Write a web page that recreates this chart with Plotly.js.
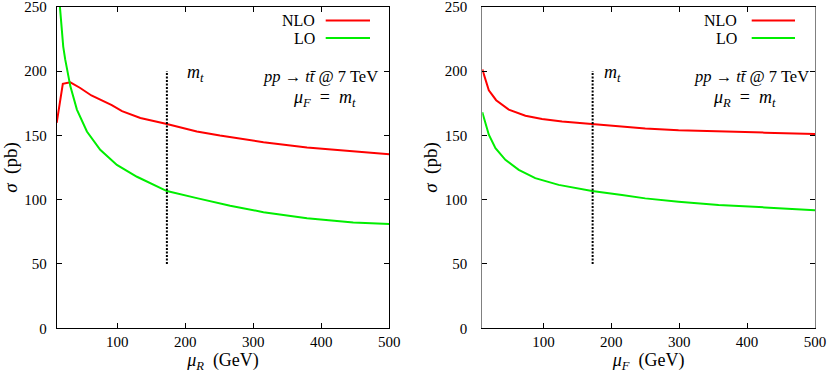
<!DOCTYPE html>
<html>
<head>
<meta charset="utf-8">
<script src="https://cdn.plot.ly/plotly-3.0.1.min.js"></script>
<style>html,body{margin:0;padding:0;background:#fff;}#chart{width:830px;height:382px;}</style>
</head>
<body>
<div id="chart"></div>
<script>
// Left panel: sigma vs mu_R (mu_F = m_t)
const muR_NLO = [11, 20, 31, 45, 62, 82, 92, 107, 134, 173, 217, 251, 266, 315, 379, 447, 500];
const sigR_NLO = [159.8, 190, 191.2, 187, 181, 176, 173.5, 168.8, 163.5, 158.8, 153, 149.8, 148.6, 144.7, 140.5, 137.9, 135.3];
const muR_LO = [15.7, 20.6, 23.5, 31, 40.7, 55.4, 75, 99.5, 129, 173, 217, 251, 266, 315, 379, 447, 500];
const sigR_LO = [250, 219, 209, 188.3, 170, 153, 138.8, 127, 117.8, 106.7, 101.2, 96.8, 95.3, 90.3, 85.5, 82.3, 81];
// Right panel: sigma vs mu_F (mu_R = m_t)
const muF_NLO = [10, 19.6, 30.4, 49, 73.5, 98, 127.5, 171.6, 215.7, 250, 299, 358, 426, 500];
const sigF_NLO = [201.3, 185, 177.3, 170, 165.3, 162.7, 160.7, 158.6, 156.8, 155.4, 153.9, 152.8, 152.1, 151];
const muF_LO = [10, 19.6, 29.4, 44, 63.7, 88, 122.5, 171.6, 215.7, 250, 299, 358, 426, 500];
const sigF_LO = [168, 150.5, 140, 131, 123.2, 116.7, 111.5, 106.8, 103.6, 101, 98.4, 95.8, 94, 91.8];
// m_t marker line
const mtLeft = [173, 173];
const mtRight = [172.5, 172.5];
const mtSpan = [50, 200];
const xTicks = [100, 200, 300, 400, 500];
const yTicks = [0, 50, 100, 150, 200, 250];

const FONT = "'Liberation Serif', 'Times New Roman', serif";
const RED = '#ff0000', GREEN = '#00ee00';

const traces = [
  {x: muR_NLO, y: sigR_NLO, xaxis: 'x', yaxis: 'y', mode: 'lines', line: {color: RED, width: 2}, name: 'NLO'},
  {x: muR_LO, y: sigR_LO, xaxis: 'x', yaxis: 'y', mode: 'lines', line: {color: GREEN, width: 2}, name: 'LO'},
  {x: mtLeft, y: mtSpan, xaxis: 'x', yaxis: 'y', mode: 'lines', line: {color: '#000', width: 2, dash: '2px,1.5px'}},
  {x: muF_NLO, y: sigF_NLO, xaxis: 'x2', yaxis: 'y2', mode: 'lines', line: {color: RED, width: 2}, name: 'NLO'},
  {x: muF_LO, y: sigF_LO, xaxis: 'x2', yaxis: 'y2', mode: 'lines', line: {color: GREEN, width: 2}, name: 'LO'},
  {x: mtRight, y: mtSpan, xaxis: 'x2', yaxis: 'y2', mode: 'lines', line: {color: '#000', width: 2, dash: '2px,1.5px'}}
];

const W = 830, H = 382;
const px = v => v / W, py = v => (H - v) / H;

function xax(dom, rng, title, anchor) {
  return {domain: dom, range: rng, tickvals: xTicks, ticks: 'inside', ticklen: 5, tickcolor: '#000',
    mirror: 'allticks', showline: true, linecolor: '#000', linewidth: 1, showgrid: false, zeroline: false,
    ticklabeloverflow: 'allow',
    tickfont: {family: FONT, size: 15, color: '#000'}, anchor: anchor, fixedrange: true,
    title: {text: title, font: {family: FONT, size: 18, color: '#000'}, standoff: 4}};
}
function yax(dom, standoff, lc, anchor, title) {
  return {domain: dom, range: [0, 250], tickvals: yTicks, ticks: 'inside', ticklen: 5, tickcolor: '#000',
    mirror: 'allticks', showline: true, linecolor: lc, linewidth: 1, showgrid: false, zeroline: false,
    ticklabeloverflow: 'allow',
    tickfont: {family: FONT, size: 15, color: '#000'}, anchor: anchor, ticklabelstandoff: standoff, fixedrange: true,
    title: {text: title, font: {family: FONT, size: 19, color: '#000'}, standoff: 2}};
}

const ydom = [py(328.3), py(6.7)];
const ann = (x, y, text, xref, yref, xanchor, size) => ({x, y, text, xref, yref, xanchor, yanchor: 'middle', showarrow: false,
  font: {family: FONT, size: size, color: '#000'}});

const MT = '<i>m<sub>t</sub></i>';
const PROC = '<i>pp</i> → <i>tt̄</i> @ 7 TeV';

const layout = {
  width: W, height: H, margin: {l: 0, r: 0, t: 0, b: 0}, showlegend: false,
  paper_bgcolor: '#fff', plot_bgcolor: '#fff',
  xaxis: xax([px(56.7), px(389.3)], [11, 500], '<i>μ<sub>R</sub></i>  (GeV)', 'y'),
  yaxis: yax(ydom, 6, '#000', 'x', '<i>σ</i>  (pb)'),
  xaxis2: xax([px(482.3), px(815)], [10, 500], '<i>μ<sub>F</sub></i>  (GeV)', 'y2'),
  yaxis2: yax(ydom, 11, '#808080', 'x2', '<i>σ</i>  (pb)'),
  annotations: [
    ann(200, 198, MT, 'x', 'y', 'left', 18),
    ann(487, 196, PROC, 'x', 'y', 'right', 16.5),
    ann(405, 179, '<i>μ<sub>F</sub></i>&nbsp;&nbsp;=&nbsp;&nbsp;<i>m<sub>t</sub></i>', 'x', 'y', 'center', 18),
    ann(187, 198, MT, 'x2', 'y2', 'left', 18),
    ann(494, 196, PROC, 'x2', 'y2', 'right', 16.5),
    ann(396, 179, '<i>μ<sub>R</sub></i>&nbsp;&nbsp;=&nbsp;&nbsp;<i>m<sub>t</sub></i>', 'x2', 'y2', 'center', 18),
    ann(px(317), py(20.3), 'NLO', 'paper', 'paper', 'right', 16),
    ann(px(317), py(38.5), 'LO', 'paper', 'paper', 'right', 16),
    ann(px(738.5), py(20.3), 'NLO', 'paper', 'paper', 'right', 16),
    ann(px(738.5), py(38.5), 'LO', 'paper', 'paper', 'right', 16)
  ],
  shapes: [
    {type: 'line', xref: 'paper', yref: 'paper', x0: px(325.7), x1: px(370), y0: py(20.5), y1: py(20.5), line: {color: RED, width: 2}},
    {type: 'line', xref: 'paper', yref: 'paper', x0: px(325.7), x1: px(370), y0: py(38), y1: py(38), line: {color: GREEN, width: 2}},
    {type: 'line', xref: 'paper', yref: 'paper', x0: px(751.7), x1: px(795), y0: py(20.5), y1: py(20.5), line: {color: RED, width: 2}},
    {type: 'line', xref: 'paper', yref: 'paper', x0: px(751.7), x1: px(795), y0: py(38), y1: py(38), line: {color: GREEN, width: 2}}
  ]
};

Plotly.newPlot('chart', traces, layout, {displayModeBar: false, staticPlot: true});
</script>
</body>
</html>
